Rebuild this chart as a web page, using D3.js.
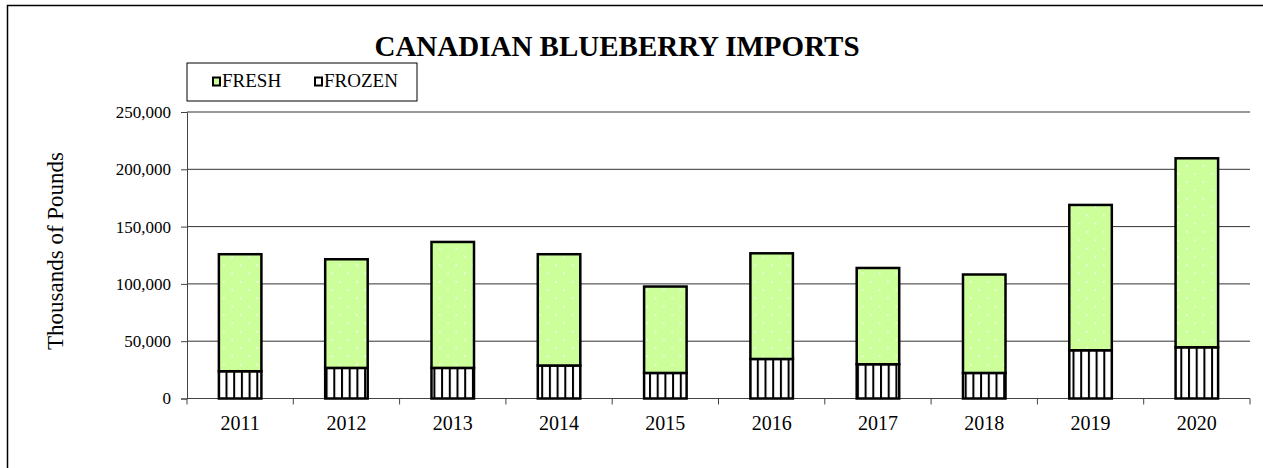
<!DOCTYPE html>
<html>
<head>
<meta charset="utf-8">
<script src="https://cdn.jsdelivr.net/npm/d3@7"></script>
<style>
  body { margin: 0; background: #fff; }
  svg { display: block; font-family: "Liberation Serif", "Times New Roman", serif; }
</style>
</head>
<body>
<div id="chart"></div>
<script>
const years = ['2011', '2012', '2013', '2014', '2015', '2016', '2017', '2018', '2019', '2020'];
const frozen = [23800, 26700, 26700, 28800, 22300, 34500, 29900, 22300, 42100, 44700];
const fresh = [102100, 94800, 109900, 97100, 75400, 92200, 84000, 85900, 126800, 164900];
const yTicks = [0, 50000, 100000, 150000, 200000, 250000];

const width = 1263, height = 468;
const margin = { top: 112, right: 13, bottom: 70, left: 187 };
const innerW = width - margin.left - margin.right;
const innerH = 398.5 - margin.top;

const svg = d3.select('#chart').append('svg')
    .attr('width', width)
    .attr('height', height);

// fill patterns: dotted green for fresh, vertical stripes for frozen
const defs = svg.append('defs');
const dots = defs.append('pattern')
    .attr('id', 'dots').attr('patternUnits', 'userSpaceOnUse')
    .attr('width', 16.6).attr('height', 16.6);
dots.append('rect').attr('width', 16.6).attr('height', 16.6).attr('fill', '#ccff99');
dots.append('rect').attr('x', 3).attr('y', 3).attr('width', 1.5).attr('height', 1.5).attr('fill', '#fff');
dots.append('rect').attr('x', 11.3).attr('y', 11.3).attr('width', 1.5).attr('height', 1.5).attr('fill', '#fff');

const stripes = defs.append('pattern')
    .attr('id', 'stripes').attr('patternUnits', 'userSpaceOnUse')
    .attr('width', 7.7).attr('height', 10);
stripes.append('rect').attr('width', 7.7).attr('height', 10).attr('fill', '#fff');
stripes.append('rect').attr('x', 0).attr('width', 2).attr('height', 10).attr('fill', '#000');

// outer frame
svg.append('rect')
    .attr('x', 7.5).attr('y', 5.5)
    .attr('width', 1300).attr('height', 500)
    .attr('fill', 'none').attr('stroke', '#000').attr('stroke-width', 1.5);

const g = svg.append('g').attr('transform', `translate(${margin.left},${margin.top})`);

const x = d3.scaleBand().domain(years).range([0, innerW]).paddingInner(0.6).paddingOuter(0.3);
const xCat = d3.scaleBand().domain(years).range([0, innerW]);
const y = d3.scaleLinear().domain([0, 250000]).range([innerH, 0]);

// gridlines
g.append('g').selectAll('line').data(yTicks.slice(1)).join('line')
    .attr('x1', 0).attr('x2', innerW)
    .attr('y1', d => y(d)).attr('y2', d => y(d))
    .attr('stroke', '#333').attr('stroke-width', 1);

// y axis
const yAxis = g.append('g')
    .call(d3.axisLeft(y).tickValues(yTicks).tickSizeOuter(0).tickSize(6).tickPadding(10)
        .tickFormat(d3.format(',')));
yAxis.select('.domain').attr('stroke', '#444');
yAxis.selectAll('.tick line').attr('stroke', '#444');
yAxis.selectAll('text').attr('font-size', 17).attr('fill', '#000')
    .attr('font-family', '"Liberation Serif", serif');

// x axis, ticks sit between categories
const xAxisG = g.append('g').attr('transform', `translate(0,${innerH})`);
xAxisG.append('line').attr('x1', 0).attr('x2', innerW).attr('stroke', '#444');
xAxisG.selectAll('.bt').data(years.concat(['end'])).join('line')
    .attr('class', 'bt')
    .attr('x1', (d, i) => i < years.length ? xCat(d) : innerW)
    .attr('x2', (d, i) => i < years.length ? xCat(d) : innerW)
    .attr('y1', 0).attr('y2', 6).attr('stroke', '#444');
xAxisG.selectAll('text').data(years).join('text')
    .attr('x', d => xCat(d) + xCat.bandwidth() / 2)
    .attr('y', 31.5)
    .attr('text-anchor', 'middle')
    .attr('font-size', 20)
    .text(d => d);

// bars
const bars = g.append('g');
bars.selectAll('.frozen').data(years).join('rect')
    .attr('class', 'frozen')
    .attr('x', d => x(d))
    .attr('width', x.bandwidth())
    .attr('y', (d, i) => y(frozen[i]))
    .attr('height', (d, i) => y(0) - y(frozen[i]))
    .attr('fill', 'url(#stripes)')
    .attr('stroke', '#000').attr('stroke-width', 2.5);
bars.selectAll('.fresh').data(years).join('rect')
    .attr('class', 'fresh')
    .attr('x', d => x(d))
    .attr('width', x.bandwidth())
    .attr('y', (d, i) => y(frozen[i] + fresh[i]))
    .attr('height', (d, i) => y(frozen[i]) - y(frozen[i] + fresh[i]))
    .attr('fill', 'url(#dots)')
    .attr('stroke', '#000').attr('stroke-width', 2.5);

// title
svg.append('text')
    .attr('x', 617).attr('y', 56)
    .attr('text-anchor', 'middle')
    .attr('font-size', 29).attr('font-weight', 'bold')
    .text('CANADIAN BLUEBERRY IMPORTS');

// y label
svg.append('text')
    .attr('transform', 'translate(63,251) rotate(-90)')
    .attr('text-anchor', 'middle')
    .attr('font-size', 23)
    .text('Thousands of Pounds');

// legend
const legend = svg.append('g');
legend.append('rect')
    .attr('x', 187).attr('y', 63).attr('width', 230).attr('height', 38)
    .attr('fill', '#fff').attr('stroke', '#000').attr('stroke-width', 1);
const legItems = [
    { label: 'FRESH', fill: '#ccff99', x: 212 },
    { label: 'FROZEN', fill: '#fff', x: 314 }
];
legItems.forEach(it => {
    legend.append('rect')
        .attr('x', it.x + 1).attr('y', 77.5).attr('width', 7).attr('height', 8)
        .attr('fill', it.fill).attr('stroke', '#000').attr('stroke-width', 2);
    legend.append('text')
        .attr('x', it.x + 10).attr('y', 87)
        .attr('font-size', 19)
        .text(it.label);
});
</script>
</body>
</html>
